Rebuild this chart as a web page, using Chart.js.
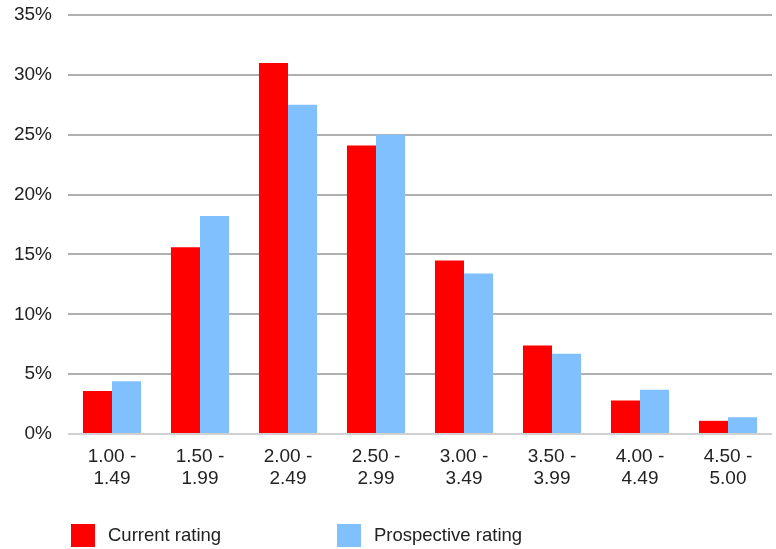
<!DOCTYPE html>
<html>
<head>
<meta charset="utf-8">
<script src="https://cdn.jsdelivr.net/npm/chart.js@4/dist/chart.umd.min.js"></script>
<style>
  html, body { margin: 0; padding: 0; background: #fff; }
  #wrap { position: relative; width: 776px; height: 549px; }
  canvas { display: block; }
  .legend-item { position: absolute; top: 523px; height: 24px; display: flex; align-items: center;
    font-family: "Liberation Sans", Arial, sans-serif; font-size: 18.5px; color: #222; }
  .swatch { width: 24px; height: 23px; margin-right: 13px; }
</style>
</head>
<body>
<div id="wrap">
  <canvas id="chart" width="776" height="549"></canvas>
  <div id="legend"></div>
</div>
<script>
// Rating bands (two-line labels)
const categories = [
  ['1.00 -', '1.49'], ['1.50 -', '1.99'], ['2.00 -', '2.49'], ['2.50 -', '2.99'],
  ['3.00 -', '3.49'], ['3.50 -', '3.99'], ['4.00 -', '4.49'], ['4.50 -', '5.00']
];
// Share of ratings per band, in percent
const currentRating = [3.6, 15.6, 31.0, 24.1, 14.5, 7.4, 2.8, 1.1];
const prospectiveRating = [4.4, 18.2, 27.5, 25.0, 13.4, 6.7, 3.7, 1.4];
const seriesNames = ['Current rating', 'Prospective rating'];
const yTicks = [0, 5, 10, 15, 20, 25, 30, 35];

const RED = '#ff0000';
const BLUE = '#80c0ff';
const FONT = { family: '"Liberation Sans", Arial, sans-serif', size: 19 };

new Chart(document.getElementById('chart'), {
  type: 'bar',
  data: {
    labels: categories,
    datasets: [
      { label: seriesNames[0], data: currentRating, backgroundColor: RED },
      { label: seriesNames[1], data: prospectiveRating, backgroundColor: BLUE }
    ]
  },
  options: {
    responsive: false,
    animation: false,
    datasets: { bar: { categoryPercentage: 0.66, barPercentage: 1.0 } },
    layout: { padding: { top: 15, right: 4, bottom: 0, left: 0 } },
    plugins: { legend: { display: false }, tooltip: { enabled: false } },
    scales: {
      x: {
        grid: { display: false, drawTicks: false },
        border: { display: false },
        ticks: { color: '#222', font: FONT, padding: 11, maxRotation: 0, autoSkip: false },
        afterFit: (s) => { s.height = 115; s.paddingLeft = 0; s.paddingRight = 0; }
      },
      y: {
        min: 0, max: 35,
        afterBuildTicks: (s) => { s.ticks = yTicks.map(v => ({ value: v })); },
        grid: {
          drawTicks: false,
          lineWidth: 2,
          color: (ctx) => ctx.tick && ctx.tick.value === 0 ? '#d0d0d0' : '#b0b0b0'
        },
        border: { display: false },
        ticks: { color: '#222', font: FONT, padding: 16, callback: (v) => v + '%' },
        afterFit: (s) => { s.width = 68; s.paddingTop = 0; s.paddingBottom = 0; }
      }
    }
  }
});

// Legend row under the chart
const legend = document.getElementById('legend');
const legendLeft = [71, 337];
[RED, BLUE].forEach((c, i) => {
  const item = document.createElement('div');
  item.className = 'legend-item';
  item.style.left = legendLeft[i] + 'px';
  item.innerHTML = '<div class="swatch" style="background:' + c + '"></div><span>' + seriesNames[i] + '</span>';
  legend.appendChild(item);
});
</script>
</body>
</html>
